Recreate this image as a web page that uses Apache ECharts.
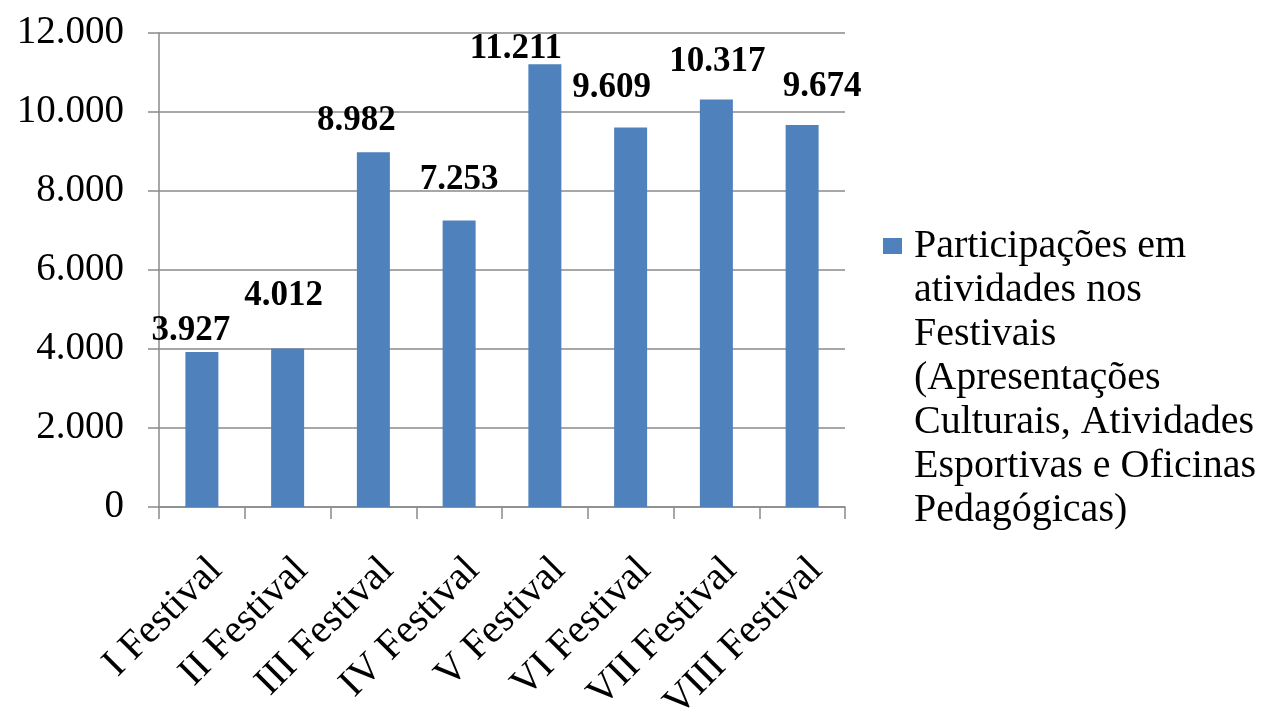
<!DOCTYPE html>
<html lang="pt">
<head>
<meta charset="utf-8">
<title>Participações nos Festivais</title>
<script src="https://cdn.jsdelivr.net/npm/echarts@6/dist/echarts.min.js"></script>
<style>
	* { margin: 0; padding: 0; }
	html, body { background: #fff; }
	#main { width: 1285px; height: 714px; }
</style>
</head>
<body>
<div id="main"></div>
<script>
	// dados
	let categorias = ['I Festival', 'II Festival', 'III Festival', 'IV Festival',
		'V Festival', 'VI Festival', 'VII Festival', 'VIII Festival'];
	let participacoes = [3927, 4012, 8982, 7253, 11211, 9609, 10317, 9674];
	let yTicks = [0, 2000, 4000, 6000, 8000, 10000, 12000];
	let legendaLinhas = ['Participações em', 'atividades nos', 'Festivais', '(Apresentações',
		'Culturais, Atividades', 'Esportivas e Oficinas', 'Pedagógicas)'];

	// deslocamento manual dos rótulos (como no original)
	let labelShift = [[-11, -3], [-4, -35], [-17, -14], [0, -23], [-29, 2], [-19, -22], [1, -20], [20, -20]];

	const FONT = '"Liberation Serif", "Times New Roman", serif';
	const eixoCor = '#8a8a8a';

	function milhar(v) {
		return String(v).replace(/\B(?=(\d{3})+(?!\d))/g, '.');
	}

	let myChart = echarts.init(document.getElementById('main'));

	let nomeSerie = legendaLinhas.join('\n');
	let dados = participacoes.map((v, i) => ({
		value: v,
		label: { offset: labelShift[i] }
	}));

	let option = {
		animation: false,
		backgroundColor: '#fff',
		grid: {
			left: 159,
			right: 440,
			top: 33,
			bottom: 207,
			containLabel: false,
			outerBoundsMode: 'none'
		},
		legend: {
			left: 883,
			top: -40,
			padding: 0,
			icon: 'rect',
			itemWidth: 19,
			itemHeight: 16,
			selectedMode: false,
			// linhas vazias antes do texto: o ícone fica alinhado com a 1ª linha
			formatter: name => '\n'.repeat(legendaLinhas.length - 1) + name,
			textStyle: {
				fontFamily: FONT,
				fontSize: 40,
				lineHeight: 44,
				color: '#000',
				padding: [0, 0, 0, 7]
			},
			data: [nomeSerie]
		},
		xAxis: {
			type: 'category',
			data: categorias,
			axisLine: { lineStyle: { color: eixoCor, width: 1.5 } },
			axisTick: { show: true, length: 12, lineStyle: { color: eixoCor, width: 1.5 } },
			axisLabel: {
				rotate: 45,
				align: 'right',
				verticalAlign: 'top',
				margin: 43,
				interval: 0,
				fontFamily: FONT,
				fontSize: 40,
				color: '#000'
			}
		},
		yAxis: {
			type: 'value',
			min: yTicks[0],
			max: yTicks[yTicks.length - 1],
			interval: yTicks[1] - yTicks[0],
			axisLine: { show: true, lineStyle: { color: eixoCor, width: 1.5 } },
			axisTick: { show: true, length: 11, lineStyle: { color: eixoCor, width: 1.5 } },
			splitLine: { show: true, lineStyle: { color: eixoCor, width: 1.5 } },
			axisLabel: {
				margin: 35,
				fontFamily: FONT,
				fontSize: 39,
				color: '#000',
				formatter: milhar
			}
		},
		series: [{
			name: nomeSerie,
			type: 'bar',
			barWidth: 33,
			itemStyle: { color: '#4F81BD' },
			label: {
				show: true,
				position: 'top',
				distance: 0,
				fontFamily: FONT,
				fontWeight: 'bold',
				fontSize: 35,
				color: '#000',
				formatter: p => milhar(p.value)
			},
			data: dados
		}]
	};
	myChart.setOption(option);
</script>
</body>
</html>
